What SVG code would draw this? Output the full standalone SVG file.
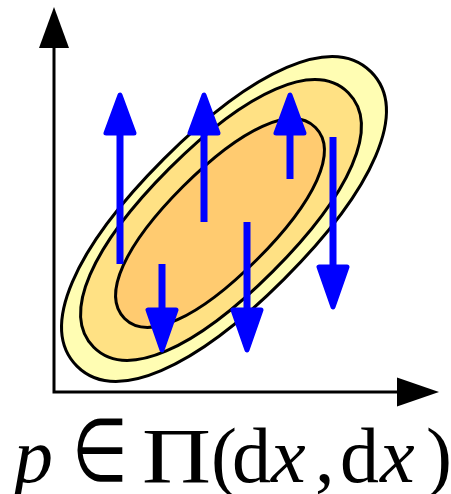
<svg xmlns="http://www.w3.org/2000/svg" width="451" height="494" viewBox="0 0 451 494">
<style>
.contour{stroke:#000;stroke-width:3;}
.c1{fill:#FFFDB3;}
.c2{fill:#FFE184;}
.c3{fill:#FFCB70;}
.axis{fill:none;stroke:#000;stroke-width:3;}
.axhead{fill:#000;}
.shaft{stroke:#0000FF;stroke-width:7;}
.head{fill:#0000FF;stroke:#0000FF;stroke-width:5;stroke-linejoin:round;}
.lbl{font-family:"Liberation Serif","DejaVu Serif",serif;font-size:78px;fill:#000;}
.it{font-style:italic;}
.sym{font-family:"DejaVu Sans",sans-serif;font-weight:200;font-size:88px;}
</style>
<g id="contours">
<g id="outer" transform="translate(224,219) rotate(-45)">
<path class="contour c1" d="M208,0 C208,54 127,85 0,85 C-127,85 -208,54 -208,0 C-208,-54 -127,-85 0,-85 C127,-85 208,-54 208,0 Z"/>
</g>
<g id="middle" transform="translate(221,220) rotate(-45)">
<path class="contour c2" d="M180,0 C180,46.5 110,73 0,73 C-110,73 -180,46.5 -180,0 C-180,-46.5 -110,-73 0,-73 C110,-73 180,-46.5 180,0 Z"/>
</g>
<g id="inner" transform="translate(220,223) rotate(-45)">
<path class="contour c3" d="M135,0 C135,33 82.5,52 0,52 C-82.5,52 -135,33 -135,0 C-135,-33 -82.5,-52 0,-52 C82.5,-52 135,-33 135,0 Z"/>
</g>
</g>
<g id="axes">
<polyline class="axis" points="54,46 54,392 399,392"/>
<polygon class="axhead" points="54,7 39,48 69,48"/>
<polygon class="axhead" points="439,392 397,377.5 397,406.5"/>
</g>
<g id="arrows">
<g id="a1"><line class="shaft" x1="120" y1="264" x2="120" y2="130"/><polygon class="head" points="120,95 106,133 134,133"/></g>
<g id="a2"><line class="shaft" x1="204" y1="222" x2="204" y2="130"/><polygon class="head" points="204,95 190,133 218,133"/></g>
<g id="a3"><line class="shaft" x1="290" y1="179" x2="290" y2="130"/><polygon class="head" points="290,95 276,133 304,133"/></g>
<g id="a4"><line class="shaft" x1="333" y1="137" x2="333" y2="272"/><polygon class="head" points="333,307 319,267 347,267"/></g>
<g id="a5"><line class="shaft" x1="162" y1="264" x2="162" y2="315"/><polygon class="head" points="162,350 148,310 176,310"/></g>
<g id="a6"><line class="shaft" x1="247" y1="222" x2="247" y2="315"/><polygon class="head" points="247,350 233,310 261,310"/></g>
</g>
<g id="label">
<text class="lbl it" x="14" y="482">p</text>
<text class="lbl sym" x="72" y="481" textLength="56" lengthAdjust="spacingAndGlyphs">∈</text>
<text class="lbl" x="142" y="482" textLength="69" lengthAdjust="spacingAndGlyphs">Π</text>
<text class="lbl" x="211" y="482">(</text>
<text class="lbl" x="232" y="482">d</text>
<text class="lbl it" x="271" y="482">x</text>
<text class="lbl" x="315" y="482">,</text>
<text class="lbl" x="340" y="482">d</text>
<text class="lbl it" x="380" y="482">x</text>
<text class="lbl" x="426" y="482">)</text>
</g>
</svg>
